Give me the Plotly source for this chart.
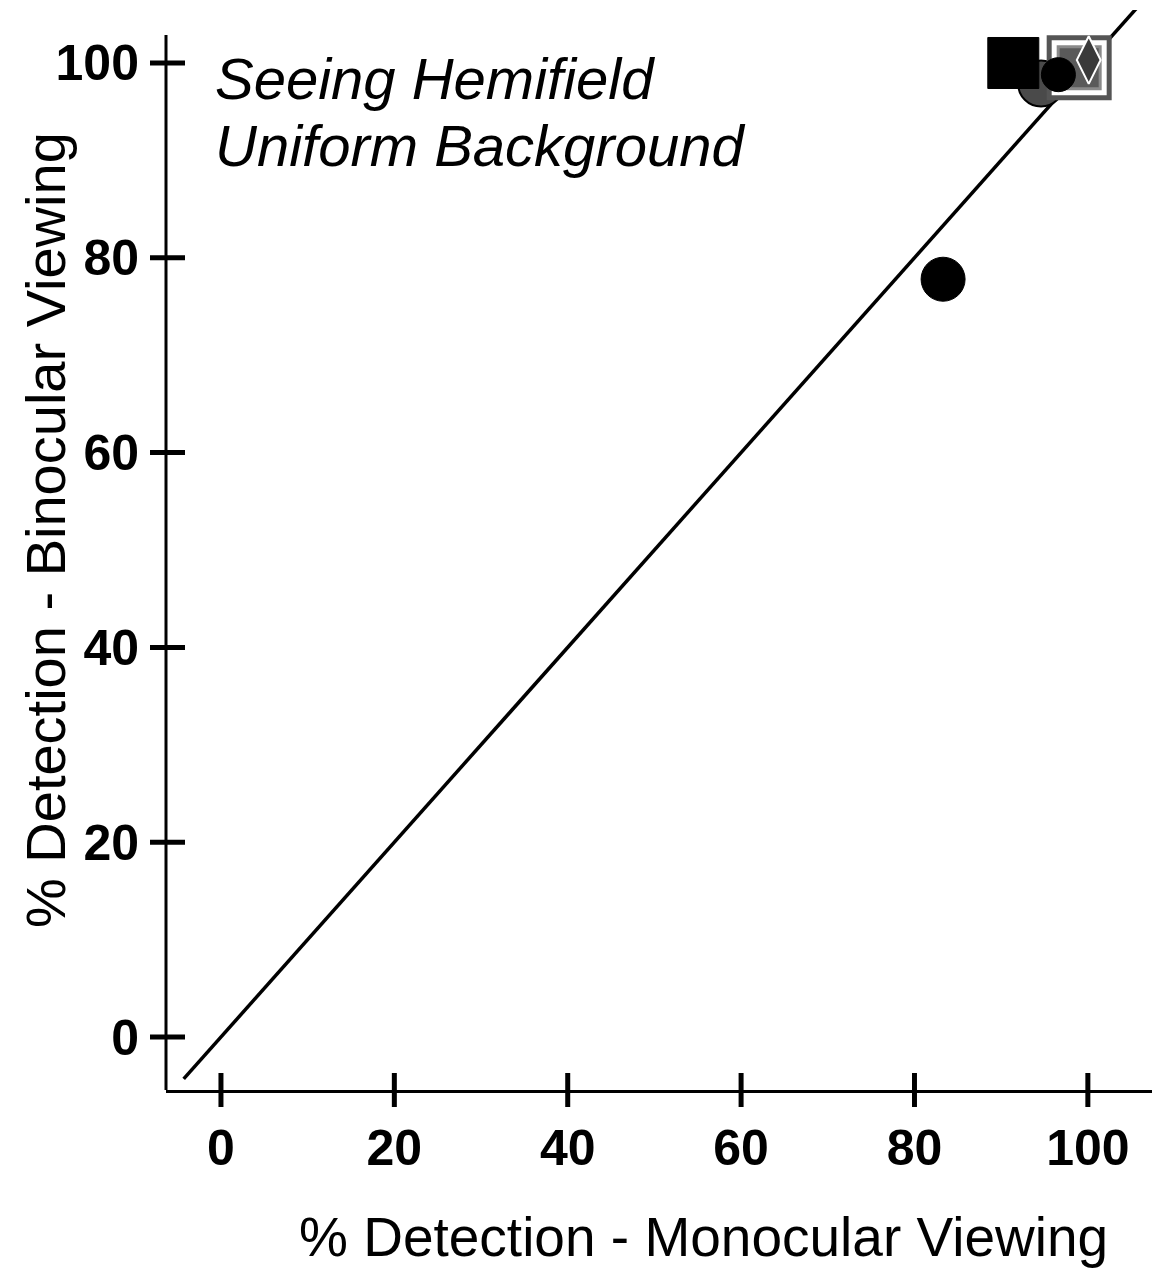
import plotly.graph_objects as go

# ---- data ----
x_ticks = [0, 20, 40, 60, 80, 100]
y_ticks = [0, 20, 40, 60, 80, 100]
x_range = [-6.34, 107.4]
y_range = [-5.44, 105.44]
y_axis_top = 102.87

line_x = [-4.3, 106]
line_y = [-4.3, 106]

# points: (x monocular, y binocular)
circle_black_x = [83.3]
circle_black_y = [77.8]
striped_circle_x = [94.6]
striped_circle_y = [97.9]
square_black_x = [91.4]
square_black_y = [100.0]
square_gray_x = [99.0]
square_gray_y = [99.5]
blob_black_x = [96.6]
blob_black_y = [98.8]
striped_diamond_x = [100.1]
striped_diamond_y = [100.3]

FONT = "Liberation Sans, Arial, Helvetica, sans-serif"
PW, PH = 986, 1080  # plot area in px
TICK_HALF = 17

fig = go.Figure()

fig.add_trace(go.Scatter(x=line_x, y=line_y, mode="lines",
                         line=dict(color="black", width=3.5), showlegend=False, hoverinfo="skip"))

fig.add_trace(go.Scatter(x=circle_black_x, y=circle_black_y, mode="markers",
                         marker=dict(symbol="circle", size=44, color="black",
                                     line=dict(color="black", width=1)),
                         showlegend=False, cliponaxis=False))
fig.add_trace(go.Scatter(x=striped_circle_x, y=striped_circle_y, mode="markers",
                         marker=dict(symbol="circle", size=46, color="#4a4a4a",
                                     line=dict(color="black", width=2)),
                         showlegend=False, cliponaxis=False))
fig.add_trace(go.Scatter(x=square_black_x, y=square_black_y, mode="markers",
                         marker=dict(symbol="square", size=51, color="black",
                                     line=dict(color="black", width=1)),
                         showlegend=False, cliponaxis=False))
fig.add_trace(go.Scatter(x=square_gray_x, y=square_gray_y, mode="markers",
                         marker=dict(symbol="square", size=60, color="white",
                                     line=dict(color="#555555", width=5)),
                         showlegend=False, cliponaxis=False))
fig.add_trace(go.Scatter(x=square_gray_x, y=square_gray_y, mode="markers",
                         marker=dict(symbol="square", size=42, color="#5a5a5a",
                                     line=dict(color="#8a8a8a", width=3)),
                         showlegend=False, cliponaxis=False))
fig.add_trace(go.Scatter(x=blob_black_x, y=blob_black_y, mode="markers",
                         marker=dict(symbol="circle", size=34, color="black",
                                     line=dict(color="black", width=1)),
                         showlegend=False, cliponaxis=False))
fig.add_trace(go.Scatter(x=striped_diamond_x, y=striped_diamond_y, mode="markers",
                         marker=dict(symbol="diamond-tall", size=34, color="#3a3a3a",
                                     line=dict(color="white", width=2)),
                         showlegend=False, cliponaxis=False))

shapes = []
# y axis line (stops below the top of the plotting area)
shapes.append(dict(type="line", xref="paper", yref="y", x0=0, x1=0,
                   y0=y_range[0], y1=y_axis_top, line=dict(color="black", width=3)))
# crossing tick marks
for v in x_ticks:
    shapes.append(dict(type="line", xref="x", yref="paper", x0=v, x1=v,
                       y0=-TICK_HALF / PH, y1=TICK_HALF / PH,
                       line=dict(color="black", width=5)))
for v in y_ticks:
    shapes.append(dict(type="line", xref="paper", yref="y",
                       x0=-(TICK_HALF - 1) / PW, x1=(TICK_HALF + 2) / PW, y0=v, y1=v,
                       line=dict(color="black", width=5)))

annotations = [
    dict(text="Seeing Hemifield", xref="paper", yref="paper", x=0.0477, y=0.937,
         xanchor="left", yanchor="middle", showarrow=False,
         font=dict(family=FONT, size=58, color="black", style="italic")),
    dict(text="Uniform Background", xref="paper", yref="paper", x=0.0477, y=0.875,
         xanchor="left", yanchor="middle", showarrow=False,
         font=dict(family=FONT, size=58, color="black", style="italic")),
    dict(text="% Detection - Monocular Viewing", xref="paper", yref="paper",
         x=0.5456, y=-0.136, xanchor="center", yanchor="middle", showarrow=False,
         font=dict(family=FONT, size=55, color="black")),
    dict(text="% Detection - Binocular Viewing", xref="paper", yref="paper",
         x=-0.1227, y=0.5185, xanchor="center", yanchor="middle", showarrow=False,
         textangle=-90, font=dict(family=FONT, size=56, color="black")),
]

fig.update_layout(
    width=1158, height=1272,
    margin=dict(l=166, r=6, t=10, b=182),
    paper_bgcolor="white", plot_bgcolor="white",
    shapes=shapes, annotations=annotations,
    xaxis=dict(range=x_range, tickvals=x_ticks, ticktext=[str(v) for v in x_ticks],
               showgrid=False, zeroline=False, showline=True, linecolor="black", linewidth=3,
               ticks="", ticklabelstandoff=12,
               tickfont=dict(family=FONT, size=50, color="black", weight="bold")),
    yaxis=dict(range=y_range, tickvals=y_ticks, ticktext=[str(v) for v in y_ticks],
               showgrid=False, zeroline=False, showline=False,
               ticks="", ticklabelstandoff=26,
               tickfont=dict(family=FONT, size=50, color="black", weight="bold")),
)

fig.write_html("out.html")
